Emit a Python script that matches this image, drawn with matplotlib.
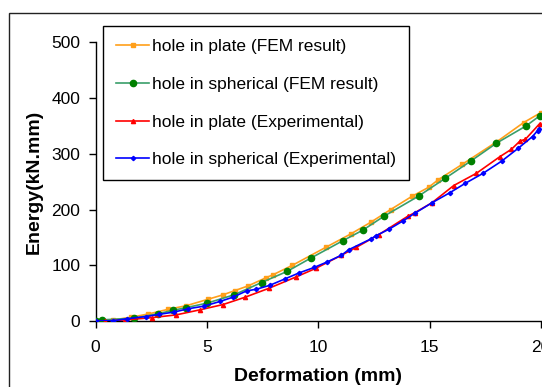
import matplotlib
matplotlib.use("Agg")
import matplotlib.pyplot as plt
from matplotlib.patches import Rectangle

plt.rcParams['font.family'] = ['Liberation Sans', 'DejaVu Sans']

# Data
plate_fem_x = [0, 0.3, 0.8, 1.57, 2.36, 3.26, 4.08, 5.05, 5.7, 6.25, 6.85, 7.67, 7.97, 8.84,
               10.33, 11.45, 12.35, 13.25, 14.22, 14.96, 15.37, 16.46, 18.03, 19.22, 20]
plate_fem_y = [0, 1, 2, 6.6, 12.5, 21, 27.5, 39, 46.7, 54.5, 63, 78, 83, 100,
               132, 156, 177, 200, 224, 240, 253, 281, 322, 356, 374]

sph_fem_x = [0, 0.27, 1.72, 2.8, 3.46, 4.07, 5.0, 6.22, 7.45, 8.6, 9.67, 11.1, 12.0, 12.95,
             14.5, 15.7, 16.85, 18.0, 19.33, 19.94]
sph_fem_y = [0.5, 2, 5, 13, 19, 24, 32, 47, 69, 89, 113, 144, 163, 188,
             224, 256, 287, 319, 350, 368]

plate_exp_x = [0, 0.42, 1.32, 2.52, 3.62, 4.68, 5.72, 6.7, 7.77, 9.0, 9.89, 11.04, 11.7, 12.72,
               14.02, 14.32, 15.1, 16.08, 17.1, 18.16, 18.67, 19.06, 19.3, 19.94]
plate_exp_y = [0, 0, 2, 6, 11, 20, 29.5, 42.5, 58.5, 79, 94.5, 118, 132, 155,
               188, 194, 212, 243, 265, 295, 308, 323, 326, 354]

sph_exp_x = [0, 0.8, 1.4, 2.26, 2.86, 3.52, 4.16, 4.85, 5.58, 6.15, 6.78, 7.22, 7.82, 8.5,
             9.12, 9.81, 10.4, 11.04, 11.37, 12.35, 12.59, 13.19, 13.82, 14.32, 15.1, 15.9,
             16.6, 17.4, 18.24, 18.98, 19.62, 19.9, 19.85]
sph_exp_y = [0, 0.5, 4, 8, 12, 16, 22, 26.5, 35, 42.5, 54, 57, 64, 75.5,
             86, 96, 106, 118, 128, 147, 153, 165, 180, 193, 212, 230,
             247, 265, 287, 310, 331, 344, 340]

labels = ["hole in plate (FEM result)", "hole in spherical (FEM result)",
          "hole in plate (Experimental)", "hole in spherical (Experimental)"]
x_ticks = [0, 5, 10, 15, 20]
y_ticks = [0, 100, 200, 300, 400, 500]

fig = plt.figure(figsize=(5.42, 3.87), dpi=100)
# outer chart frame
fig.patches.append(Rectangle((9/542, -0.1), 1.2, (387-13)/387 + 0.1,
                             transform=fig.transFigure, fill=False,
                             edgecolor='#222222', linewidth=1.0))
ax = fig.add_axes([95.6/542, (387-321)/387, (541-95.6)/542, (321-42.3)/387])

ax.plot(plate_fem_x, plate_fem_y, color='#FF9F1A', lw=1.2, marker='s', ms=2.5,
        label=labels[0], zorder=3)
ax.plot(sph_fem_x, sph_fem_y, color='#3A9E6A', lw=1.2, marker='o', ms=4.5,
        mfc='#008000', mec='#008000', label=labels[1], zorder=3)
ax.plot(plate_exp_x, plate_exp_y, color='#FF0000', lw=1.2, marker='^', ms=3,
        label=labels[2], zorder=3)
ax.plot(sph_exp_x, sph_exp_y, color='#0000FF', lw=1.2, marker='D', ms=2.2,
        label=labels[3], zorder=3)

ax.set_xlim(0, 20)
ax.set_ylim(0, 500)
ax.set_xticks(x_ticks)
ax.set_yticks(y_ticks)
ax.spines['top'].set_visible(False)
ax.spines['right'].set_visible(False)
for s in ['left', 'bottom']:
    ax.spines[s].set_linewidth(1.0)
ax.tick_params(direction='out', length=5, width=1.0, labelsize=12.5)
ax.tick_params(axis='x', pad=9)
ax.tick_params(axis='y', pad=6)
for lab in ax.get_xticklabels():
    lab.set_clip_on(False)

ax.set_xlabel("Deformation (mm)", fontsize=14, fontweight='bold', labelpad=9)
ax.set_ylabel("Energy(kN.mm)", fontsize=14, fontweight='bold', labelpad=6)

leg = ax.legend(loc='upper left', bbox_to_anchor=(103/542, (387-26)/387),
                bbox_transform=fig.transFigure, fontsize=12.5, frameon=True,
                fancybox=False, edgecolor='black', labelspacing=1.3,
                handlelength=1.9, handletextpad=0.2, borderpad=0.75,
                borderaxespad=0, framealpha=1)
leg.get_frame().set_linewidth(1.0)

fig.savefig("out.png", dpi=100)
